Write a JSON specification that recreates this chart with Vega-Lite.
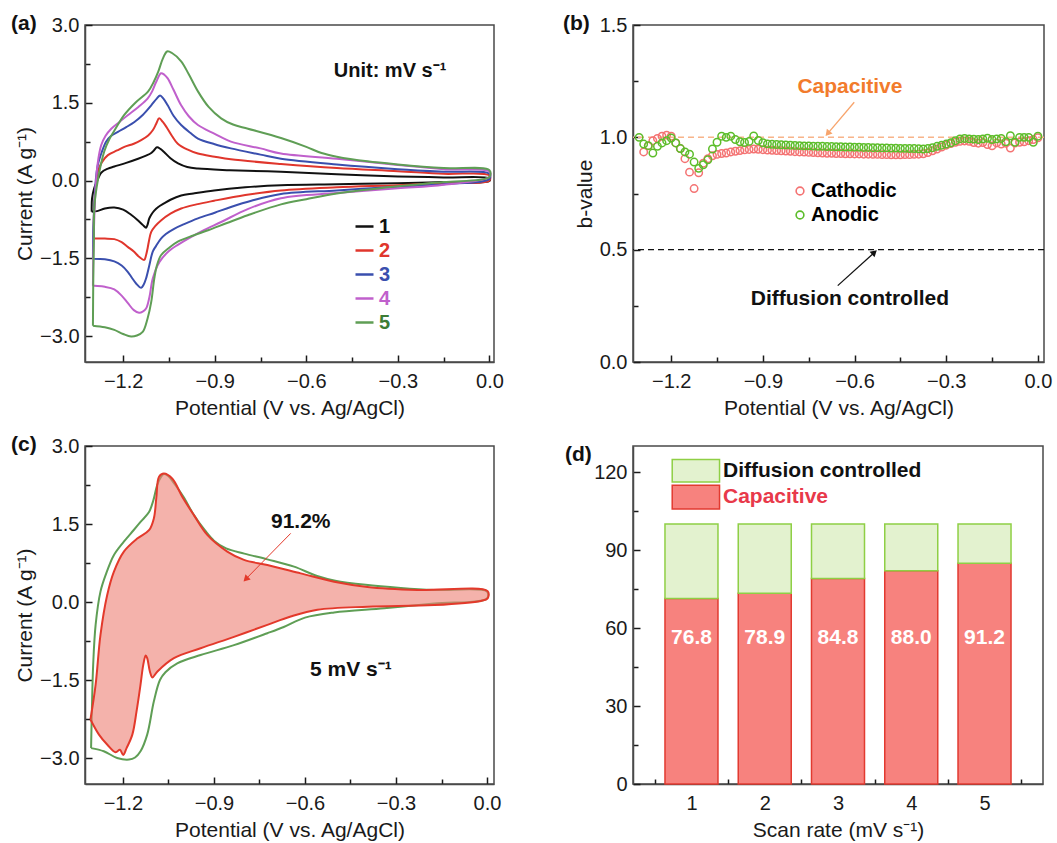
{
"$schema":"https://vega.github.io/schema/vega-lite/v6.json",
"background":"white",
"padding":{"left":10,"top":12,"right":5,"bottom":5},
"config":{
 "font":"Liberation Sans",
 "view":{"stroke":"#4a4a4a","strokeWidth":1.5},
 "axis":{"grid":false,"labelOverlap":false,"domainColor":"#4a4a4a","domainWidth":1.5,"tickColor":"#1a1a1a","tickWidth":1.5,"labelFontSize":20,"labelColor":"#1a1a1a","labelFont":"Liberation Sans","titleFont":"Liberation Sans","titleFontSize":21,"titleFontWeight":"normal","titleColor":"#1a1a1a"},
 "axisX":{"labelPadding":16,"titlePadding":4},
 "axisY":{"labelPadding":13,"titlePadding":4},
 "title":{"fontSize":21,"fontWeight":"bold","anchor":"start","frame":"group","color":"#111111","font":"Liberation Sans"},
 "legend":{"padding":0}
},
"resolve":{"scale":{"color":"independent","fill":"independent","stroke":"independent"}},
"spacing":14,
"vconcat":[
{"hconcat":[
{
"width":409,"height":337,
"title":{"text":"(a)","dx":-74,"dy":23},
"layer":[
{"data":{"values":[
{"s":"1","k":0,"p":-1.303,"i":-0.60},{"s":"1","k":1,"p":-1.302,"i":-0.35},{"s":"1","k":2,"p":-1.295,"i":-0.15},{"s":"1","k":3,"p":-1.288,"i":-0.05},{"s":"1","k":4,"p":-1.272,"i":0.15},{"s":"1","k":5,"p":-1.25,"i":0.23},{"s":"1","k":6,"p":-1.229,"i":0.27},{"s":"1","k":7,"p":-1.19,"i":0.34},{"s":"1","k":8,"p":-1.151,"i":0.42},{"s":"1","k":9,"p":-1.125,"i":0.48},{"s":"1","k":10,"p":-1.108,"i":0.53},{"s":"1","k":11,"p":-1.098,"i":0.59},{"s":"1","k":12,"p":-1.089,"i":0.64},{"s":"1","k":13,"p":-1.078,"i":0.61},{"s":"1","k":14,"p":-1.066,"i":0.55},{"s":"1","k":15,"p":-1.045,"i":0.43},{"s":"1","k":16,"p":-1.02,"i":0.33},{"s":"1","k":17,"p":-0.99,"i":0.26},{"s":"1","k":18,"p":-0.955,"i":0.23},{"s":"1","k":19,"p":-0.85,"i":0.2},{"s":"1","k":20,"p":-0.683,"i":0.17},{"s":"1","k":21,"p":-0.5,"i":0.12},{"s":"1","k":22,"p":-0.3,"i":0.08},{"s":"1","k":23,"p":-0.15,"i":0.06},{"s":"1","k":24,"p":0,"i":0.04},{"s":"1","k":25,"p":0,"i":-0.01},{"s":"1","k":26,"p":-0.15,"i":-0.03},{"s":"1","k":27,"p":-0.3,"i":-0.05},{"s":"1","k":28,"p":-0.5,"i":-0.07},{"s":"1","k":29,"p":-0.683,"i":-0.09},{"s":"1","k":30,"p":-0.8,"i":-0.13},{"s":"1","k":31,"p":-0.902,"i":-0.19},{"s":"1","k":32,"p":-0.97,"i":-0.25},{"s":"1","k":33,"p":-1.01,"i":-0.29},{"s":"1","k":34,"p":-1.045,"i":-0.37},{"s":"1","k":35,"p":-1.066,"i":-0.44},{"s":"1","k":36,"p":-1.085,"i":-0.51},{"s":"1","k":37,"p":-1.098,"i":-0.58},{"s":"1","k":38,"p":-1.108,"i":-0.66},{"s":"1","k":39,"p":-1.115,"i":-0.74},{"s":"1","k":40,"p":-1.12,"i":-0.85},{"s":"1","k":41,"p":-1.125,"i":-0.91},{"s":"1","k":42,"p":-1.135,"i":-0.86},{"s":"1","k":43,"p":-1.155,"i":-0.75},{"s":"1","k":44,"p":-1.174,"i":-0.66},{"s":"1","k":45,"p":-1.2,"i":-0.56},{"s":"1","k":46,"p":-1.229,"i":-0.52},{"s":"1","k":47,"p":-1.26,"i":-0.54},{"s":"1","k":48,"p":-1.285,"i":-0.59},{"s":"1","k":49,"p":-1.303,"i":-0.60},
{"s":"2","k":0,"p":-1.297,"i":-1.12},{"s":"2","k":1,"p":-1.296,"i":-0.7},{"s":"2","k":2,"p":-1.292,"i":-0.25},{"s":"2","k":3,"p":-1.283,"i":0.17},{"s":"2","k":4,"p":-1.27,"i":0.35},{"s":"2","k":5,"p":-1.25,"i":0.49},{"s":"2","k":6,"p":-1.22,"i":0.58},{"s":"2","k":7,"p":-1.196,"i":0.65},{"s":"2","k":8,"p":-1.165,"i":0.71},{"s":"2","k":9,"p":-1.141,"i":0.78},{"s":"2","k":10,"p":-1.118,"i":0.87},{"s":"2","k":11,"p":-1.103,"i":0.97},{"s":"2","k":12,"p":-1.092,"i":1.09},{"s":"2","k":13,"p":-1.082,"i":1.2},{"s":"2","k":14,"p":-1.07,"i":1.13},{"s":"2","k":15,"p":-1.059,"i":1.04},{"s":"2","k":16,"p":-1.04,"i":0.86},{"s":"2","k":17,"p":-1.021,"i":0.71},{"s":"2","k":18,"p":-0.99,"i":0.6},{"s":"2","k":19,"p":-0.955,"i":0.52},{"s":"2","k":20,"p":-0.9,"i":0.46},{"s":"2","k":21,"p":-0.847,"i":0.41},{"s":"2","k":22,"p":-0.683,"i":0.32},{"s":"2","k":23,"p":-0.5,"i":0.24},{"s":"2","k":24,"p":-0.3,"i":0.18},{"s":"2","k":25,"p":-0.15,"i":0.13},{"s":"2","k":26,"p":0,"i":0.10},{"s":"2","k":27,"p":0,"i":0.0},{"s":"2","k":28,"p":-0.15,"i":-0.05},{"s":"2","k":29,"p":-0.3,"i":-0.09},{"s":"2","k":30,"p":-0.5,"i":-0.13},{"s":"2","k":31,"p":-0.683,"i":-0.19},{"s":"2","k":32,"p":-0.8,"i":-0.28},{"s":"2","k":33,"p":-0.902,"i":-0.39},{"s":"2","k":34,"p":-0.96,"i":-0.46},{"s":"2","k":35,"p":-1.01,"i":-0.54},{"s":"2","k":36,"p":-1.045,"i":-0.64},{"s":"2","k":37,"p":-1.076,"i":-0.77},{"s":"2","k":38,"p":-1.095,"i":-0.88},{"s":"2","k":39,"p":-1.108,"i":-0.99},{"s":"2","k":40,"p":-1.115,"i":-1.15},{"s":"2","k":41,"p":-1.12,"i":-1.31},{"s":"2","k":42,"p":-1.125,"i":-1.44},{"s":"2","k":43,"p":-1.131,"i":-1.53},{"s":"2","k":44,"p":-1.148,"i":-1.47},{"s":"2","k":45,"p":-1.165,"i":-1.37},{"s":"2","k":46,"p":-1.185,"i":-1.28},{"s":"2","k":47,"p":-1.205,"i":-1.19},{"s":"2","k":48,"p":-1.229,"i":-1.13},{"s":"2","k":49,"p":-1.26,"i":-1.12},{"s":"2","k":50,"p":-1.297,"i":-1.12},
{"s":"3","k":0,"p":-1.299,"i":-1.51},{"s":"3","k":1,"p":-1.298,"i":-1.0},{"s":"3","k":2,"p":-1.294,"i":-0.4},{"s":"3","k":3,"p":-1.289,"i":0.05},{"s":"3","k":4,"p":-1.283,"i":0.30},{"s":"3","k":5,"p":-1.27,"i":0.55},{"s":"3","k":6,"p":-1.256,"i":0.75},{"s":"3","k":7,"p":-1.24,"i":0.86},{"s":"3","k":8,"p":-1.217,"i":0.94},{"s":"3","k":9,"p":-1.19,"i":1.03},{"s":"3","k":10,"p":-1.163,"i":1.13},{"s":"3","k":11,"p":-1.135,"i":1.27},{"s":"3","k":12,"p":-1.108,"i":1.45},{"s":"3","k":13,"p":-1.09,"i":1.58},{"s":"3","k":14,"p":-1.079,"i":1.64},{"s":"3","k":15,"p":-1.068,"i":1.58},{"s":"3","k":16,"p":-1.054,"i":1.45},{"s":"3","k":17,"p":-1.035,"i":1.25},{"s":"3","k":18,"p":-1.01,"i":1.07},{"s":"3","k":19,"p":-0.98,"i":0.92},{"s":"3","k":20,"p":-0.955,"i":0.81},{"s":"3","k":21,"p":-0.9,"i":0.7},{"s":"3","k":22,"p":-0.847,"i":0.62},{"s":"3","k":23,"p":-0.75,"i":0.5},{"s":"3","k":24,"p":-0.683,"i":0.42},{"s":"3","k":25,"p":-0.5,"i":0.31},{"s":"3","k":26,"p":-0.3,"i":0.22},{"s":"3","k":27,"p":-0.15,"i":0.17},{"s":"3","k":28,"p":0,"i":0.13},{"s":"3","k":29,"p":0,"i":0.03},{"s":"3","k":30,"p":-0.15,"i":-0.07},{"s":"3","k":31,"p":-0.3,"i":-0.12},{"s":"3","k":32,"p":-0.5,"i":-0.19},{"s":"3","k":33,"p":-0.683,"i":-0.26},{"s":"3","k":34,"p":-0.78,"i":-0.39},{"s":"3","k":35,"p":-0.847,"i":-0.51},{"s":"3","k":36,"p":-0.9,"i":-0.62},{"s":"3","k":37,"p":-0.955,"i":-0.73},{"s":"3","k":38,"p":-1.0,"i":-0.84},{"s":"3","k":39,"p":-1.033,"i":-0.93},{"s":"3","k":40,"p":-1.06,"i":-1.03},{"s":"3","k":41,"p":-1.076,"i":-1.12},{"s":"3","k":42,"p":-1.092,"i":-1.26},{"s":"3","k":43,"p":-1.103,"i":-1.37},{"s":"3","k":44,"p":-1.114,"i":-1.63},{"s":"3","k":45,"p":-1.125,"i":-1.89},{"s":"3","k":46,"p":-1.133,"i":-2.01},{"s":"3","k":47,"p":-1.141,"i":-2.07},{"s":"3","k":48,"p":-1.157,"i":-1.99},{"s":"3","k":49,"p":-1.172,"i":-1.87},{"s":"3","k":50,"p":-1.185,"i":-1.76},{"s":"3","k":51,"p":-1.205,"i":-1.64},{"s":"3","k":52,"p":-1.229,"i":-1.56},{"s":"3","k":53,"p":-1.26,"i":-1.52},{"s":"3","k":54,"p":-1.299,"i":-1.51},
{"s":"4","k":0,"p":-1.299,"i":-2.03},{"s":"4","k":1,"p":-1.298,"i":-1.5},{"s":"4","k":2,"p":-1.295,"i":-0.8},{"s":"4","k":3,"p":-1.29,"i":-0.1},{"s":"4","k":4,"p":-1.283,"i":0.35},{"s":"4","k":5,"p":-1.272,"i":0.68},{"s":"4","k":6,"p":-1.258,"i":0.86},{"s":"4","k":7,"p":-1.239,"i":1.0},{"s":"4","k":8,"p":-1.21,"i":1.14},{"s":"4","k":9,"p":-1.185,"i":1.26},{"s":"4","k":10,"p":-1.15,"i":1.42},{"s":"4","k":11,"p":-1.12,"i":1.58},{"s":"4","k":12,"p":-1.105,"i":1.72},{"s":"4","k":13,"p":-1.092,"i":1.9},{"s":"4","k":14,"p":-1.076,"i":2.07},{"s":"4","k":15,"p":-1.065,"i":2.04},{"s":"4","k":16,"p":-1.054,"i":1.97},{"s":"4","k":17,"p":-1.035,"i":1.75},{"s":"4","k":18,"p":-1.01,"i":1.45},{"s":"4","k":19,"p":-0.985,"i":1.24},{"s":"4","k":20,"p":-0.955,"i":1.07},{"s":"4","k":21,"p":-0.9,"i":0.9},{"s":"4","k":22,"p":-0.847,"i":0.75},{"s":"4","k":23,"p":-0.75,"i":0.62},{"s":"4","k":24,"p":-0.683,"i":0.52},{"s":"4","k":25,"p":-0.5,"i":0.42},{"s":"4","k":26,"p":-0.3,"i":0.3},{"s":"4","k":27,"p":-0.15,"i":0.22},{"s":"4","k":28,"p":0,"i":0.17},{"s":"4","k":29,"p":0,"i":0.07},{"s":"4","k":30,"p":-0.15,"i":-0.08},{"s":"4","k":31,"p":-0.3,"i":-0.15},{"s":"4","k":32,"p":-0.5,"i":-0.24},{"s":"4","k":33,"p":-0.683,"i":-0.34},{"s":"4","k":34,"p":-0.792,"i":-0.55},{"s":"4","k":35,"p":-0.879,"i":-0.8},{"s":"4","k":36,"p":-0.934,"i":-0.95},{"s":"4","k":37,"p":-0.978,"i":-1.09},{"s":"4","k":38,"p":-1.021,"i":-1.24},{"s":"4","k":39,"p":-1.05,"i":-1.36},{"s":"4","k":40,"p":-1.081,"i":-1.57},{"s":"4","k":41,"p":-1.103,"i":-1.89},{"s":"4","k":42,"p":-1.114,"i":-2.25},{"s":"4","k":43,"p":-1.125,"i":-2.47},{"s":"4","k":44,"p":-1.136,"i":-2.53},{"s":"4","k":45,"p":-1.148,"i":-2.55},{"s":"4","k":46,"p":-1.165,"i":-2.5},{"s":"4","k":47,"p":-1.185,"i":-2.36},{"s":"4","k":48,"p":-1.205,"i":-2.22},{"s":"4","k":49,"p":-1.229,"i":-2.1},{"s":"4","k":50,"p":-1.26,"i":-2.05},{"s":"4","k":51,"p":-1.299,"i":-2.03},
{"s":"5","k":0,"p":-1.299,"i":-2.8},{"s":"5","k":1,"p":-1.298,"i":-2.0},{"s":"5","k":2,"p":-1.296,"i":-1.2},{"s":"5","k":3,"p":-1.294,"i":-0.48},{"s":"5","k":4,"p":-1.282,"i":0.04},{"s":"5","k":5,"p":-1.262,"i":0.56},{"s":"5","k":6,"p":-1.245,"i":0.8},{"s":"5","k":7,"p":-1.23,"i":0.95},{"s":"5","k":8,"p":-1.197,"i":1.26},{"s":"5","k":9,"p":-1.16,"i":1.5},{"s":"5","k":10,"p":-1.118,"i":1.72},{"s":"5","k":11,"p":-1.1,"i":1.9},{"s":"5","k":12,"p":-1.085,"i":2.1},{"s":"5","k":13,"p":-1.07,"i":2.35},{"s":"5","k":14,"p":-1.056,"i":2.49},{"s":"5","k":15,"p":-1.04,"i":2.46},{"s":"5","k":16,"p":-1.01,"i":2.3},{"s":"5","k":17,"p":-0.985,"i":2.05},{"s":"5","k":18,"p":-0.955,"i":1.72},{"s":"5","k":19,"p":-0.92,"i":1.42},{"s":"5","k":20,"p":-0.879,"i":1.2},{"s":"5","k":21,"p":-0.84,"i":1.08},{"s":"5","k":22,"p":-0.791,"i":1.0},{"s":"5","k":23,"p":-0.683,"i":0.82},{"s":"5","k":24,"p":-0.6,"i":0.65},{"s":"5","k":25,"p":-0.55,"i":0.53},{"s":"5","k":26,"p":-0.5,"i":0.46},{"s":"5","k":27,"p":-0.4,"i":0.37},{"s":"5","k":28,"p":-0.3,"i":0.31},{"s":"5","k":29,"p":-0.15,"i":0.24},{"s":"5","k":30,"p":0,"i":0.2},{"s":"5","k":31,"p":0,"i":0.07},{"s":"5","k":32,"p":-0.15,"i":-0.03},{"s":"5","k":33,"p":-0.3,"i":-0.11},{"s":"5","k":34,"p":-0.5,"i":-0.25},{"s":"5","k":35,"p":-0.6,"i":-0.36},{"s":"5","k":36,"p":-0.683,"i":-0.46},{"s":"5","k":37,"p":-0.792,"i":-0.67},{"s":"5","k":38,"p":-0.86,"i":-0.82},{"s":"5","k":39,"p":-0.922,"i":-0.96},{"s":"5","k":40,"p":-0.97,"i":-1.06},{"s":"5","k":41,"p":-1.021,"i":-1.18},{"s":"5","k":42,"p":-1.05,"i":-1.3},{"s":"5","k":43,"p":-1.076,"i":-1.44},{"s":"5","k":44,"p":-1.09,"i":-1.65},{"s":"5","k":45,"p":-1.098,"i":-1.89},{"s":"5","k":46,"p":-1.108,"i":-2.34},{"s":"5","k":47,"p":-1.12,"i":-2.66},{"s":"5","k":48,"p":-1.136,"i":-2.92},{"s":"5","k":49,"p":-1.155,"i":-2.99},{"s":"5","k":50,"p":-1.174,"i":-3.01},{"s":"5","k":51,"p":-1.2,"i":-2.96},{"s":"5","k":52,"p":-1.229,"i":-2.88},{"s":"5","k":53,"p":-1.26,"i":-2.83},{"s":"5","k":54,"p":-1.299,"i":-2.8}
]},
"mark":{"type":"line","interpolate":"catmull-rom","strokeWidth":2},
"encoding":{
 "x":{"field":"p","type":"quantitative","scale":{"domain":[-1.325,0.015],"nice":false,"zero":false},
  "axis":{"title":"Potential (V vs. Ag/AgCl)","labelOverlap":false,"values":[-1.2,-1.05,-0.9,-0.75,-0.6,-0.45,-0.3,-0.15,0],"format":".1f","labelExpr":"round(datum.value*100) % 30 == 0 ? datum.label : ''","tickSize":{"condition":{"test":"round(datum.value*100) % 30 == 0","value":-7},"value":-5}}},
 "y":{"field":"i","type":"quantitative","scale":{"domain":[-3.5,3.0],"nice":false,"zero":false},
  "axis":{"title":"Current (A g⁻¹)","labelOverlap":false,"values":[-3,-2.25,-1.5,-0.75,0,0.75,1.5,2.25,3],"format":".1f","labelExpr":"round(datum.value*100) % 150 == 0 ? datum.label : ''","tickSize":{"condition":{"test":"round(datum.value*100) % 150 == 0","value":-7},"value":-5}}},
 "color":{"field":"s","type":"nominal","scale":{"domain":["1","2","3","4","5"],"range":["#111111","#e0362c","#3a4fae","#c060cc","#5f9e55"]},
  "legend":{"orient":"none","legendX":269,"legendY":191,"title":null,"symbolType":"stroke","symbolSize":324,"symbolStrokeWidth":2.5,"labelFontSize":20,"labelFontWeight":"bold","labelOffset":4,"rowPadding":3,
   "encode":{"labels":{"update":{"fill":{"signal":"datum.value == '1' ? '#111111' : datum.value == '2' ? '#e0362c' : datum.value == '3' ? '#3a4fae' : datum.value == '4' ? '#c060cc' : '#3d7d35'"}}}}}},
 "order":{"field":"k","type":"quantitative"}
}},
{"data":{"values":[{"t":"Unit: mV s⁻¹"}]},"mark":{"type":"text","fontSize":20,"fontWeight":"bold","align":"left","baseline":"middle","color":"#111111"},
 "encoding":{"x":{"datum":-0.51,"type":"quantitative"},"y":{"datum":2.12,"type":"quantitative"},"text":{"field":"t"}}}
]
},
{
"width":411,"height":337,
"title":{"text":"(b)","dx":-70,"dy":23},
"layer":[
{"data":{"values":[{}]},"mark":{"type":"rule","strokeDash":[6,4],"color":"#f8b48a","strokeWidth":1.5},"encoding":{"y":{"datum":1,"type":"quantitative"}}},
{"data":{"values":[{}]},"mark":{"type":"rule","strokeDash":[6,4],"color":"#111111","strokeWidth":1.3},"encoding":{"y":{"datum":0.5,"type":"quantitative"}}},
{"data":{"values":[
{"t":"Cathodic","x":-1.29,"b":0.935},{"t":"Cathodic","x":-1.275,"b":0.962},{"t":"Cathodic","x":-1.26,"b":0.985},{"t":"Cathodic","x":-1.245,"b":0.995},{"t":"Cathodic","x":-1.23,"b":1.005},{"t":"Cathodic","x":-1.215,"b":1.01},{"t":"Cathodic","x":-1.2,"b":1.005},{"t":"Cathodic","x":-1.185,"b":0.975},{"t":"Cathodic","x":-1.17,"b":0.95},{"t":"Cathodic","x":-1.155,"b":0.905},{"t":"Cathodic","x":-1.14,"b":0.845},{"t":"Cathodic","x":-1.125,"b":0.772},{"t":"Cathodic","x":-1.11,"b":0.842},{"t":"Cathodic","x":-1.095,"b":0.885},{"t":"Cathodic","x":-1.08,"b":0.905},{"t":"Cathodic","x":-1.065,"b":0.918},{"t":"Cathodic","x":-1.05,"b":0.924},{"t":"Cathodic","x":-1.035,"b":0.928},{"t":"Cathodic","x":-1.02,"b":0.93},{"t":"Cathodic","x":-1.005,"b":0.935},{"t":"Cathodic","x":-0.99,"b":0.938},{"t":"Cathodic","x":-0.975,"b":0.941},{"t":"Cathodic","x":-0.96,"b":0.944},{"t":"Cathodic","x":-0.945,"b":0.946},{"t":"Cathodic","x":-0.93,"b":0.948},{"t":"Cathodic","x":-0.915,"b":0.947},{"t":"Cathodic","x":-0.9,"b":0.945},{"t":"Cathodic","x":-0.885,"b":0.943},{"t":"Cathodic","x":-0.87,"b":0.942},{"t":"Cathodic","x":-0.855,"b":0.941},{"t":"Cathodic","x":-0.84,"b":0.94},{"t":"Cathodic","x":-0.825,"b":0.939},{"t":"Cathodic","x":-0.81,"b":0.938},{"t":"Cathodic","x":-0.795,"b":0.936},{"t":"Cathodic","x":-0.78,"b":0.935},{"t":"Cathodic","x":-0.765,"b":0.934},{"t":"Cathodic","x":-0.75,"b":0.933},{"t":"Cathodic","x":-0.735,"b":0.932},{"t":"Cathodic","x":-0.72,"b":0.931},{"t":"Cathodic","x":-0.705,"b":0.93},{"t":"Cathodic","x":-0.69,"b":0.929},{"t":"Cathodic","x":-0.675,"b":0.929},{"t":"Cathodic","x":-0.66,"b":0.928},{"t":"Cathodic","x":-0.645,"b":0.928},{"t":"Cathodic","x":-0.63,"b":0.927},{"t":"Cathodic","x":-0.615,"b":0.927},{"t":"Cathodic","x":-0.6,"b":0.926},{"t":"Cathodic","x":-0.585,"b":0.926},{"t":"Cathodic","x":-0.57,"b":0.925},{"t":"Cathodic","x":-0.555,"b":0.925},{"t":"Cathodic","x":-0.54,"b":0.924},{"t":"Cathodic","x":-0.525,"b":0.924},{"t":"Cathodic","x":-0.51,"b":0.923},{"t":"Cathodic","x":-0.495,"b":0.923},{"t":"Cathodic","x":-0.48,"b":0.922},{"t":"Cathodic","x":-0.465,"b":0.922},{"t":"Cathodic","x":-0.45,"b":0.922},{"t":"Cathodic","x":-0.435,"b":0.923},{"t":"Cathodic","x":-0.42,"b":0.923},{"t":"Cathodic","x":-0.405,"b":0.924},{"t":"Cathodic","x":-0.39,"b":0.925},{"t":"Cathodic","x":-0.375,"b":0.927},{"t":"Cathodic","x":-0.36,"b":0.932},{"t":"Cathodic","x":-0.345,"b":0.94},{"t":"Cathodic","x":-0.33,"b":0.948},{"t":"Cathodic","x":-0.315,"b":0.957},{"t":"Cathodic","x":-0.3,"b":0.965},{"t":"Cathodic","x":-0.285,"b":0.972},{"t":"Cathodic","x":-0.27,"b":0.978},{"t":"Cathodic","x":-0.255,"b":0.982},{"t":"Cathodic","x":-0.24,"b":0.984},{"t":"Cathodic","x":-0.225,"b":0.982},{"t":"Cathodic","x":-0.21,"b":0.977},{"t":"Cathodic","x":-0.195,"b":0.974},{"t":"Cathodic","x":-0.18,"b":0.977},{"t":"Cathodic","x":-0.165,"b":0.968},{"t":"Cathodic","x":-0.15,"b":0.962},{"t":"Cathodic","x":-0.135,"b":0.975},{"t":"Cathodic","x":-0.12,"b":0.97},{"t":"Cathodic","x":-0.105,"b":0.974},{"t":"Cathodic","x":-0.09,"b":0.952},{"t":"Cathodic","x":-0.075,"b":0.975},{"t":"Cathodic","x":-0.06,"b":0.978},{"t":"Cathodic","x":-0.045,"b":0.98},{"t":"Cathodic","x":-0.03,"b":0.985},{"t":"Cathodic","x":-0.015,"b":0.99},{"t":"Cathodic","x":0,"b":0.998},
{"t":"Anodic","x":-1.305,"b":1.0},{"t":"Anodic","x":-1.29,"b":0.97},{"t":"Anodic","x":-1.275,"b":0.963},{"t":"Anodic","x":-1.26,"b":0.93},{"t":"Anodic","x":-1.245,"b":0.96},{"t":"Anodic","x":-1.23,"b":0.975},{"t":"Anodic","x":-1.215,"b":0.985},{"t":"Anodic","x":-1.2,"b":0.997},{"t":"Anodic","x":-1.185,"b":0.975},{"t":"Anodic","x":-1.17,"b":0.95},{"t":"Anodic","x":-1.155,"b":0.935},{"t":"Anodic","x":-1.14,"b":0.925},{"t":"Anodic","x":-1.125,"b":0.89},{"t":"Anodic","x":-1.11,"b":0.862},{"t":"Anodic","x":-1.095,"b":0.878},{"t":"Anodic","x":-1.08,"b":0.9},{"t":"Anodic","x":-1.065,"b":0.948},{"t":"Anodic","x":-1.05,"b":0.978},{"t":"Anodic","x":-1.035,"b":1.005},{"t":"Anodic","x":-1.02,"b":1.0},{"t":"Anodic","x":-1.005,"b":1.005},{"t":"Anodic","x":-0.99,"b":0.99},{"t":"Anodic","x":-0.975,"b":0.98},{"t":"Anodic","x":-0.96,"b":0.977},{"t":"Anodic","x":-0.945,"b":0.982},{"t":"Anodic","x":-0.93,"b":1.006},{"t":"Anodic","x":-0.915,"b":0.986},{"t":"Anodic","x":-0.9,"b":0.976},{"t":"Anodic","x":-0.885,"b":0.971},{"t":"Anodic","x":-0.87,"b":0.969},{"t":"Anodic","x":-0.855,"b":0.968},{"t":"Anodic","x":-0.84,"b":0.967},{"t":"Anodic","x":-0.825,"b":0.966},{"t":"Anodic","x":-0.81,"b":0.965},{"t":"Anodic","x":-0.795,"b":0.964},{"t":"Anodic","x":-0.78,"b":0.963},{"t":"Anodic","x":-0.765,"b":0.962},{"t":"Anodic","x":-0.75,"b":0.962},{"t":"Anodic","x":-0.735,"b":0.961},{"t":"Anodic","x":-0.72,"b":0.96},{"t":"Anodic","x":-0.705,"b":0.96},{"t":"Anodic","x":-0.69,"b":0.959},{"t":"Anodic","x":-0.675,"b":0.959},{"t":"Anodic","x":-0.66,"b":0.958},{"t":"Anodic","x":-0.645,"b":0.958},{"t":"Anodic","x":-0.63,"b":0.957},{"t":"Anodic","x":-0.615,"b":0.957},{"t":"Anodic","x":-0.6,"b":0.956},{"t":"Anodic","x":-0.585,"b":0.956},{"t":"Anodic","x":-0.57,"b":0.955},{"t":"Anodic","x":-0.555,"b":0.955},{"t":"Anodic","x":-0.54,"b":0.954},{"t":"Anodic","x":-0.525,"b":0.954},{"t":"Anodic","x":-0.51,"b":0.953},{"t":"Anodic","x":-0.495,"b":0.953},{"t":"Anodic","x":-0.48,"b":0.952},{"t":"Anodic","x":-0.465,"b":0.952},{"t":"Anodic","x":-0.45,"b":0.951},{"t":"Anodic","x":-0.435,"b":0.951},{"t":"Anodic","x":-0.42,"b":0.95},{"t":"Anodic","x":-0.405,"b":0.95},{"t":"Anodic","x":-0.39,"b":0.949},{"t":"Anodic","x":-0.375,"b":0.948},{"t":"Anodic","x":-0.36,"b":0.95},{"t":"Anodic","x":-0.345,"b":0.954},{"t":"Anodic","x":-0.33,"b":0.96},{"t":"Anodic","x":-0.315,"b":0.965},{"t":"Anodic","x":-0.3,"b":0.97},{"t":"Anodic","x":-0.285,"b":0.976},{"t":"Anodic","x":-0.27,"b":0.985},{"t":"Anodic","x":-0.255,"b":0.993},{"t":"Anodic","x":-0.24,"b":0.995},{"t":"Anodic","x":-0.225,"b":0.993},{"t":"Anodic","x":-0.21,"b":0.992},{"t":"Anodic","x":-0.195,"b":0.99},{"t":"Anodic","x":-0.18,"b":0.993},{"t":"Anodic","x":-0.165,"b":0.996},{"t":"Anodic","x":-0.15,"b":0.99},{"t":"Anodic","x":-0.135,"b":0.993},{"t":"Anodic","x":-0.12,"b":0.995},{"t":"Anodic","x":-0.105,"b":0.98},{"t":"Anodic","x":-0.09,"b":1.007},{"t":"Anodic","x":-0.075,"b":0.978},{"t":"Anodic","x":-0.06,"b":1.0},{"t":"Anodic","x":-0.045,"b":1.0},{"t":"Anodic","x":-0.03,"b":1.0},{"t":"Anodic","x":-0.015,"b":0.978},{"t":"Anodic","x":0,"b":1.005}
]},
"mark":{"type":"point","filled":false,"size":55,"strokeWidth":1.5,"opacity":1},
"encoding":{
 "x":{"field":"x","type":"quantitative","scale":{"domain":[-1.325,0.02],"nice":false,"zero":false},
  "axis":{"title":"Potential (V vs. Ag/AgCl)","labelOverlap":false,"values":[-1.2,-1.05,-0.9,-0.75,-0.6,-0.45,-0.3,-0.15,0],"format":".1f","labelExpr":"round(datum.value*100) % 30 == 0 ? datum.label : ''","tickSize":{"condition":{"test":"round(datum.value*100) % 30 == 0","value":-7},"value":-5}}},
 "y":{"field":"b","type":"quantitative","scale":{"domain":[0,1.5],"nice":false,"zero":false},
  "axis":{"title":"b-value","labelOverlap":false,"values":[0,0.25,0.5,0.75,1,1.25,1.5],"format":".1f","labelExpr":"round(datum.value*100) % 50 == 0 ? datum.label : ''","tickSize":{"condition":{"test":"round(datum.value*100) % 50 == 0","value":-7},"value":-5}}},
 "color":{"field":"t","type":"nominal","scale":{"domain":["Cathodic","Anodic"],"range":["#f47373","#5cbd2a"]},
  "legend":{"orient":"none","legendX":157,"legendY":156,"title":null,"labelFontSize":20,"labelFontWeight":"bold","symbolSize":60,"symbolStrokeWidth":1.6,"rowPadding":4,"labelOffset":1,
   "encode":{"labels":{"update":{"fill":{"signal":"datum.value == 'Cathodic' ? '#f47373' : '#5cbd2a'"}}}}}}
}},
{"data":{"values":[{"t":"Capacitive"}]},"mark":{"type":"text","fontSize":21,"fontWeight":"bold","align":"center","baseline":"middle","color":"#f27b2c"},
 "encoding":{"x":{"datum":-0.615,"type":"quantitative"},"y":{"datum":1.222,"type":"quantitative"},"text":{"field":"t"}}},
{"data":{"values":[{"t":"Diffusion controlled"}]},"mark":{"type":"text","fontSize":21,"fontWeight":"bold","align":"center","baseline":"middle","color":"#111111"},
 "encoding":{"x":{"datum":-0.615,"type":"quantitative"},"y":{"datum":0.28,"type":"quantitative"},"text":{"field":"t"}}},
{"data":{"values":[{}]},"mark":{"type":"rule","color":"#f7a46c","strokeWidth":1.3},
 "encoding":{"x":{"datum":-0.601,"type":"quantitative"},"y":{"datum":1.156,"type":"quantitative"},"x2":{"datum":-0.686},"y2":{"datum":1.02}}},
{"data":{"values":[{}]},"mark":{"type":"point","shape":"triangle-up","filled":true,"size":55,"angle":220,"color":"#f7a46c","opacity":1},
 "encoding":{"x":{"datum":-0.688,"type":"quantitative"},"y":{"datum":1.017,"type":"quantitative"}}},
{"data":{"values":[{}]},"mark":{"type":"rule","color":"#111111","strokeWidth":1.3},
 "encoding":{"x":{"datum":-0.655,"type":"quantitative"},"y":{"datum":0.34,"type":"quantitative"},"x2":{"datum":-0.537},"y2":{"datum":0.485}}},
{"data":{"values":[{}]},"mark":{"type":"point","shape":"triangle-up","filled":true,"size":55,"angle":48,"color":"#111111","opacity":1},
 "encoding":{"x":{"datum":-0.535,"type":"quantitative"},"y":{"datum":0.488,"type":"quantitative"}}}
]
}
],"spacing":139,"bounds":"flush","resolve":{"scale":{"color":"independent","fill":"independent","stroke":"independent"}}},
{"hconcat":[
{
"width":409,"height":338,
"title":{"text":"(c)","dx":-74,"dy":23},
"layer":[
{"data":{"values":[
{"k":0,"p":-1.305,"i":-2.81},{"k":1,"p":-1.302,"i":-2.0},{"k":2,"p":-1.298,"i":-1.2},{"k":3,"p":-1.29,"i":-0.44},{"k":4,"p":-1.274,"i":0.2},{"k":5,"p":-1.255,"i":0.55},{"k":6,"p":-1.23,"i":0.9},{"k":7,"p":-1.197,"i":1.16},{"k":8,"p":-1.165,"i":1.38},{"k":9,"p":-1.142,"i":1.54},{"k":10,"p":-1.114,"i":1.73},{"k":11,"p":-1.1,"i":1.95},{"k":12,"p":-1.087,"i":2.25},{"k":13,"p":-1.075,"i":2.4},{"k":14,"p":-1.065,"i":2.46},{"k":15,"p":-1.05,"i":2.42},{"k":16,"p":-1.03,"i":2.27},{"k":17,"p":-1.0,"i":2.02},{"k":18,"p":-0.966,"i":1.67},{"k":19,"p":-0.93,"i":1.38},{"k":20,"p":-0.9,"i":1.18},{"k":21,"p":-0.86,"i":1.03},{"k":22,"p":-0.8,"i":0.93},{"k":23,"p":-0.724,"i":0.82},{"k":24,"p":-0.636,"i":0.68},{"k":25,"p":-0.56,"i":0.5},{"k":26,"p":-0.5,"i":0.41},{"k":27,"p":-0.4,"i":0.33},{"k":28,"p":-0.284,"i":0.27},{"k":29,"p":-0.174,"i":0.23},{"k":30,"p":0,"i":0.2},{"k":31,"p":0,"i":0.07},{"k":32,"p":-0.174,"i":-0.03},{"k":33,"p":-0.339,"i":-0.12},{"k":34,"p":-0.504,"i":-0.2},{"k":35,"p":-0.6,"i":-0.3},{"k":36,"p":-0.67,"i":-0.48},{"k":37,"p":-0.724,"i":-0.6},{"k":38,"p":-0.834,"i":-0.83},{"k":39,"p":-0.944,"i":-1.02},{"k":40,"p":-1.021,"i":-1.18},{"k":41,"p":-1.06,"i":-1.35},{"k":42,"p":-1.078,"i":-1.5},{"k":43,"p":-1.098,"i":-1.91},{"k":44,"p":-1.12,"i":-2.55},{"k":45,"p":-1.142,"i":-2.87},{"k":46,"p":-1.16,"i":-2.99},{"k":47,"p":-1.18,"i":-3.03},{"k":48,"p":-1.219,"i":-3.0},{"k":49,"p":-1.263,"i":-2.87},{"k":50,"p":-1.305,"i":-2.81}
]},
"mark":{"type":"line","interpolate":"catmull-rom","strokeWidth":2,"color":"#5f9e55"},
"encoding":{
 "x":{"field":"p","type":"quantitative","scale":{"domain":[-1.325,0.023],"nice":false,"zero":false},
  "axis":{"title":"Potential (V vs. Ag/AgCl)","labelOverlap":false,"values":[-1.2,-1.05,-0.9,-0.75,-0.6,-0.45,-0.3,-0.15,0],"format":".1f","labelExpr":"round(datum.value*100) % 30 == 0 ? datum.label : ''","tickSize":{"condition":{"test":"round(datum.value*100) % 30 == 0","value":-7},"value":-5}}},
 "y":{"field":"i","type":"quantitative","scale":{"domain":[-3.5,3.0],"nice":false,"zero":false},
  "axis":{"title":"Current (A g⁻¹)","labelOverlap":false,"values":[-3,-2.25,-1.5,-0.75,0,0.75,1.5,2.25,3],"format":".1f","labelExpr":"round(datum.value*100) % 150 == 0 ? datum.label : ''","tickSize":{"condition":{"test":"round(datum.value*100) % 150 == 0","value":-7},"value":-5}}},
 "order":{"field":"k","type":"quantitative"}
}},
{"data":{"values":[
{"k":0,"p":-1.307,"i":-2.26},{"k":1,"p":-1.29,"i":-1.59},{"k":2,"p":-1.274,"i":-0.63},{"k":3,"p":-1.252,"i":0.13},{"k":4,"p":-1.23,"i":0.58},{"k":5,"p":-1.197,"i":0.97},{"k":6,"p":-1.153,"i":1.22},{"k":7,"p":-1.114,"i":1.38},{"k":8,"p":-1.098,"i":1.61},{"k":9,"p":-1.09,"i":2.0},{"k":10,"p":-1.081,"i":2.41},{"k":11,"p":-1.065,"i":2.47},{"k":12,"p":-1.037,"i":2.37},{"k":13,"p":-1.004,"i":2.02},{"k":14,"p":-0.966,"i":1.67},{"k":15,"p":-0.922,"i":1.29},{"k":16,"p":-0.856,"i":0.97},{"k":17,"p":-0.801,"i":0.81},{"k":18,"p":-0.724,"i":0.71},{"k":19,"p":-0.614,"i":0.55},{"k":20,"p":-0.504,"i":0.39},{"k":21,"p":-0.394,"i":0.29},{"k":22,"p":-0.229,"i":0.23},{"k":23,"p":0.002,"i":0.21},{"k":24,"p":0.002,"i":0.07},{"k":25,"p":-0.02,"i":0.02},{"k":26,"p":-0.174,"i":-0.06},{"k":27,"p":-0.394,"i":-0.09},{"k":28,"p":-0.559,"i":-0.15},{"k":29,"p":-0.647,"i":-0.28},{"k":30,"p":-0.724,"i":-0.44},{"k":31,"p":-0.834,"i":-0.67},{"k":32,"p":-0.944,"i":-0.89},{"k":33,"p":-1.032,"i":-1.08},{"k":34,"p":-1.087,"i":-1.34},{"k":35,"p":-1.103,"i":-1.45},{"k":36,"p":-1.111,"i":-1.34},{"k":37,"p":-1.12,"i":-1.08},{"k":38,"p":-1.125,"i":-1.03},{"k":39,"p":-1.133,"i":-1.21},{"k":40,"p":-1.142,"i":-1.59},{"k":41,"p":-1.155,"i":-2.10},{"k":42,"p":-1.169,"i":-2.55},{"k":43,"p":-1.188,"i":-2.81},{"k":44,"p":-1.199,"i":-2.94},{"k":45,"p":-1.21,"i":-2.84},{"k":46,"p":-1.224,"i":-2.89},{"k":47,"p":-1.252,"i":-2.74},{"k":48,"p":-1.279,"i":-2.55},{"k":49,"p":-1.307,"i":-2.26}
]},
"mark":{"type":"line","interpolate":"catmull-rom","strokeWidth":2,"stroke":"#e3392b","fill":"#ee8278","fillOpacity":0.62},
"encoding":{
 "x":{"field":"p","type":"quantitative"},
 "y":{"field":"i","type":"quantitative"},
 "order":{"field":"k","type":"quantitative"}
}},
{"data":{"values":[{"t":"91.2%"}]},"mark":{"type":"text","fontSize":21,"fontWeight":"bold","align":"center","baseline":"middle","color":"#111111"},
 "encoding":{"x":{"datum":-0.614,"type":"quantitative"},"y":{"datum":1.54,"type":"quantitative"},"text":{"field":"t"}}},
{"data":{"values":[{"t":"5 mV s⁻¹"}]},"mark":{"type":"text","fontSize":21,"fontWeight":"bold","align":"center","baseline":"middle","color":"#111111"},
 "encoding":{"x":{"datum":-0.449,"type":"quantitative"},"y":{"datum":-1.31,"type":"quantitative"},"text":{"field":"t"}}},
{"data":{"values":[{}]},"mark":{"type":"rule","color":"#e3392b","strokeWidth":1},
 "encoding":{"x":{"datum":-0.647,"type":"quantitative"},"y":{"datum":1.32,"type":"quantitative"},"x2":{"datum":-0.79},"y2":{"datum":0.47}}},
{"data":{"values":[{}]},"mark":{"type":"point","shape":"triangle-up","filled":true,"size":55,"angle":225,"color":"#e3392b","opacity":1},
 "encoding":{"x":{"datum":-0.795,"type":"quantitative"},"y":{"datum":0.44,"type":"quantitative"}}}
]
},
{
"width":410,"height":338,
"title":{"text":"(d)","dx":-68,"dy":23},
"layer":[
{"data":{"values":[
{"rate":1,"component":"Capacitive","v":71.3},{"rate":1,"component":"Diffusion controlled","v":28.7},
{"rate":2,"component":"Capacitive","v":73.4},{"rate":2,"component":"Diffusion controlled","v":26.6},
{"rate":3,"component":"Capacitive","v":79.0},{"rate":3,"component":"Diffusion controlled","v":21.0},
{"rate":4,"component":"Capacitive","v":82.0},{"rate":4,"component":"Diffusion controlled","v":18.0},
{"rate":5,"component":"Capacitive","v":84.9},{"rate":5,"component":"Diffusion controlled","v":15.1}
]},
"mark":{"type":"bar","size":53,"strokeWidth":1.5},
"encoding":{
 "x":{"field":"rate","type":"quantitative","scale":{"domain":[0.27,5.73],"nice":false,"zero":false},
  "axis":{"title":"Scan rate (mV s⁻¹)","labelOverlap":false,"labelFlush":false,"values":[0.5,1,1.5,2,2.5,3,3.5,4,4.5,5,5.5],"labelExpr":"datum.value % 1 == 0 ? format(datum.value, 'd') : ''","tickSize":{"condition":{"test":"datum.value % 1 == 0","value":-7},"value":-5}}},
 "y":{"field":"v","type":"quantitative","stack":"zero","scale":{"domain":[0,130],"nice":false,"zero":false},
  "axis":{"title":null,"labelOverlap":false,"values":[0,15,30,45,60,75,90,105,120],"labelExpr":"datum.value % 30 == 0 ? datum.label : ''","tickSize":{"condition":{"test":"datum.value % 30 == 0","value":-7},"value":-5}}},
 "fill":{"field":"component","type":"nominal","scale":{"domain":["Diffusion controlled","Capacitive"],"range":["#e3f2cf","#f7827e"]},"legend":null},
 "stroke":{"field":"component","type":"nominal","scale":{"domain":["Diffusion controlled","Capacitive"],"range":["#8fcf45","#e23a30"]},"legend":null},
 "order":{"field":"component","sort":"ascending"}
}},
{"data":{"values":[{"rate":1,"lab":"76.8"},{"rate":2,"lab":"78.9"},{"rate":3,"lab":"84.8"},{"rate":4,"lab":"88.0"},{"rate":5,"lab":"91.2"}]},
 "mark":{"type":"text","color":"white","fontSize":21,"fontWeight":"bold","baseline":"middle","align":"center"},
 "encoding":{"x":{"field":"rate","type":"quantitative"},"y":{"datum":56.2,"type":"quantitative"},"text":{"field":"lab"}}},
{"data":{"values":[{}]},"mark":{"type":"rect","fill":"#e3f2cf","stroke":"#8fcf45","strokeWidth":1.5},
 "encoding":{"x":{"datum":0.737,"type":"quantitative"},"x2":{"datum":1.383},"y":{"datum":124.8,"type":"quantitative"},"y2":{"datum":116.2}}},
{"data":{"values":[{}]},"mark":{"type":"rect","fill":"#f7827e","stroke":"#e23a30","strokeWidth":1.5},
 "encoding":{"x":{"datum":0.737,"type":"quantitative"},"x2":{"datum":1.383},"y":{"datum":114.9,"type":"quantitative"},"y2":{"datum":105.8}}},
{"data":{"values":[{"t":"Diffusion controlled"}]},"mark":{"type":"text","fontSize":21,"fontWeight":"bold","align":"left","baseline":"middle","color":"#111111"},
 "encoding":{"x":{"datum":1.43,"type":"quantitative"},"y":{"datum":120.5,"type":"quantitative"},"text":{"field":"t"}}},
{"data":{"values":[{"t":"Capacitive"}]},"mark":{"type":"text","fontSize":21,"fontWeight":"bold","align":"left","baseline":"middle","color":"#e8394a"},
 "encoding":{"x":{"datum":1.43,"type":"quantitative"},"y":{"datum":110.4,"type":"quantitative"},"text":{"field":"t"}}}
]
}
],"spacing":139,"bounds":"flush","resolve":{"scale":{"color":"independent","fill":"independent","stroke":"independent"}}}
]
}
